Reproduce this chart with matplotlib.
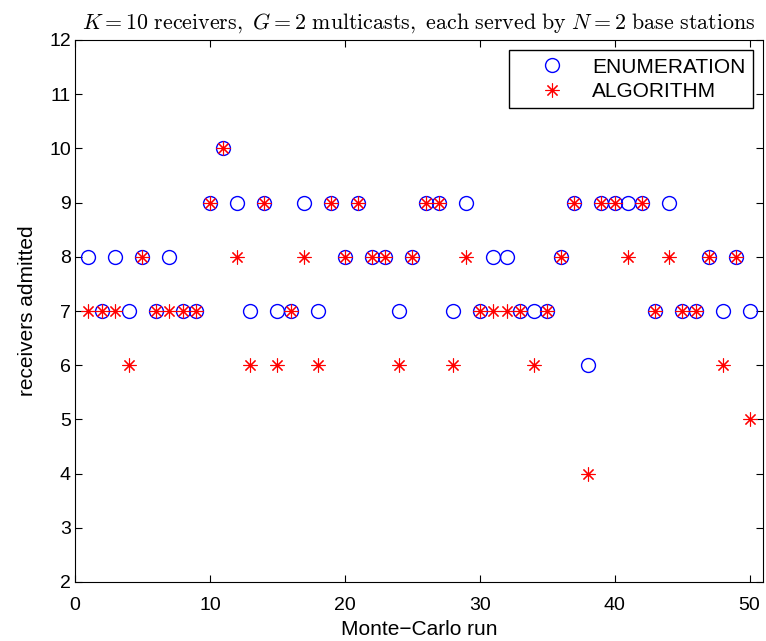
import matplotlib.pyplot as plt
import numpy as np

plt.rcParams['font.family'] = ['Liberation Sans', 'DejaVu Sans']
plt.rcParams['mathtext.fontset'] = 'cm'

runs = np.arange(1, 51)
enumeration = [8, 7, 8, 7, 8, 7, 8, 7, 7, 9,
               10, 9, 7, 9, 7, 7, 9, 7, 9, 8,
               9, 8, 8, 7, 8, 9, 9, 7, 9, 7,
               8, 8, 7, 7, 7, 8, 9, 6, 9, 9,
               9, 9, 7, 9, 7, 7, 8, 7, 8, 7]
algorithm = [7, 7, 7, 6, 8, 7, 7, 7, 7, 9,
             10, 8, 6, 9, 6, 7, 8, 6, 9, 8,
             9, 8, 8, 6, 8, 9, 9, 6, 8, 7,
             7, 7, 7, 6, 7, 8, 9, 4, 9, 9,
             8, 9, 7, 8, 7, 7, 8, 6, 8, 5]

fig = plt.figure(figsize=(7.66, 6.41), dpi=100)
ax = fig.add_axes([75 / 766, 1 - 582 / 641, 688 / 766, 542 / 641])

ax.plot(runs, enumeration, linestyle='none', marker='o', markersize=10,
        markerfacecolor='none', markeredgecolor='blue', markeredgewidth=1.0,
        label='ENUMERATION')
ax.plot(runs, algorithm, linestyle='none', marker=(8, 2, 0), markersize=10,
        color='red', markeredgewidth=0.8, label='ALGORITHM')

ax.set_xlim(0, 51)
ax.set_ylim(2, 12)
ax.set_xticks(range(0, 51, 10))
ax.set_yticks(range(2, 13))
ax.tick_params(direction='in', top=True, right=True, labelsize=14, length=5, pad=3)
ax.tick_params(axis='x', pad=11)
ax.set_xlabel('Monte\u2212Carlo run', fontsize=15, labelpad=4)
ax.set_ylabel('receivers admitted', fontsize=15, labelpad=9)
ax.set_title(r'$K=10\ \mathrm{receivers,}\ G=2\ \mathrm{multicasts,\ each\ served\ by}\ N=2\ \mathrm{base\ stations}$',
             fontsize=15.8, pad=8)

leg = ax.legend(loc='upper right', fontsize=15, fancybox=False, framealpha=1,
                edgecolor='black', borderaxespad=0.5, handlelength=3.5,
                handletextpad=0.15, labelspacing=0.25, borderpad=0.35)
leg.get_frame().set_linewidth(1.0)

fig.savefig('out.png', dpi=100)
